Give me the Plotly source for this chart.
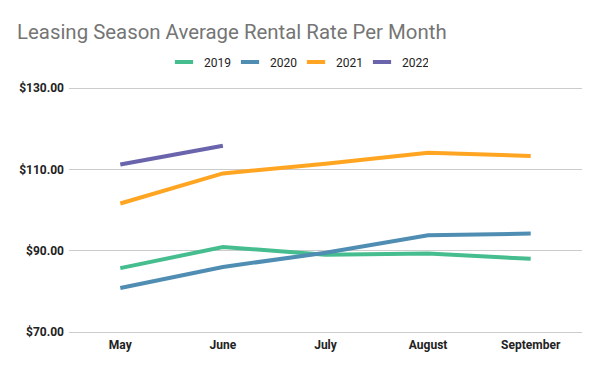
import plotly.graph_objects as go

months = ["May", "June", "July", "August", "September"]
rates_2019 = [85.7, 90.9, 89.0, 89.3, 88.0]
rates_2020 = [80.8, 86.0, 89.5, 93.8, 94.2]
rates_2021 = [101.6, 109.0, 111.4, 114.1, 113.3]
rates_2022 = [111.2, 115.8, None, None, None]
years = ["2019", "2020", "2021", "2022"]
colors = ["#45bd8f", "#4f8db3", "#ffa522", "#6a64ad"]
tick_vals = [70, 90, 110, 130]
tick_text = ["$70.00", "$90.00", "$110.00", "$130.00"]

fig = go.Figure()
for name, vals, col in zip(years, [rates_2019, rates_2020, rates_2021, rates_2022], colors):
    fig.add_trace(go.Scatter(x=months, y=vals, mode="lines", name=name,
                             line=dict(color=col, width=4), connectgaps=False,
                             showlegend=False, legendgroup=name, hoverinfo="skip"))
    # compact legend swatch
    fig.add_trace(go.Scatter(x=[None], y=[None], mode="markers", name=name,
                             legendgroup=name,
                             marker=dict(symbol="line-ew", size=13,
                                         line=dict(width=4, color=col))))

# 2px padding so the edge gridlines ($70 / $130) are still drawn
pad = 2 * 60 / 244
fig.update_layout(
    width=600, height=371,
    paper_bgcolor="white", plot_bgcolor="white",
    margin=dict(l=69, r=18, t=86, b=37),
    font=dict(family="Roboto", size=12, color="#222222"),
    title=dict(text="Leasing Season Average Rental Rate Per Month",
               x=17/600, xanchor="left", y=1-32/371, yanchor="middle",
               font=dict(family="Roboto", size=20.4, color="#757575")),
    legend=dict(orientation="h", x=(164-69)/513, xanchor="left",
                y=(334-62)/248, yanchor="middle",
                font=dict(family="Roboto", size=12, color="#222222"),
                itemwidth=30, entrywidth=21, traceorder="normal"),
    showlegend=True,
)
fig.update_xaxes(type="category", range=[-0.5, 4.5], showgrid=False, showline=False,
                 zeroline=False, ticks="", ticklabelstandoff=2,
                 tickfont=dict(family="Roboto", size=12, color="#222222", weight="bold"))
fig.update_yaxes(range=[70 - pad, 130 + pad], tickvals=tick_vals, ticktext=tick_text,
                 showgrid=True, gridcolor="#cccccc", gridwidth=1, zeroline=False,
                 showline=False, ticks="", ticklabelstandoff=4,
                 tickfont=dict(family="Roboto", size=12, color="#222222", weight="bold"))

fig.write_html("out.html", config={"displayModeBar": False},
               post_script="document.body.style.margin='0';document.body.style.overflow='hidden';")
